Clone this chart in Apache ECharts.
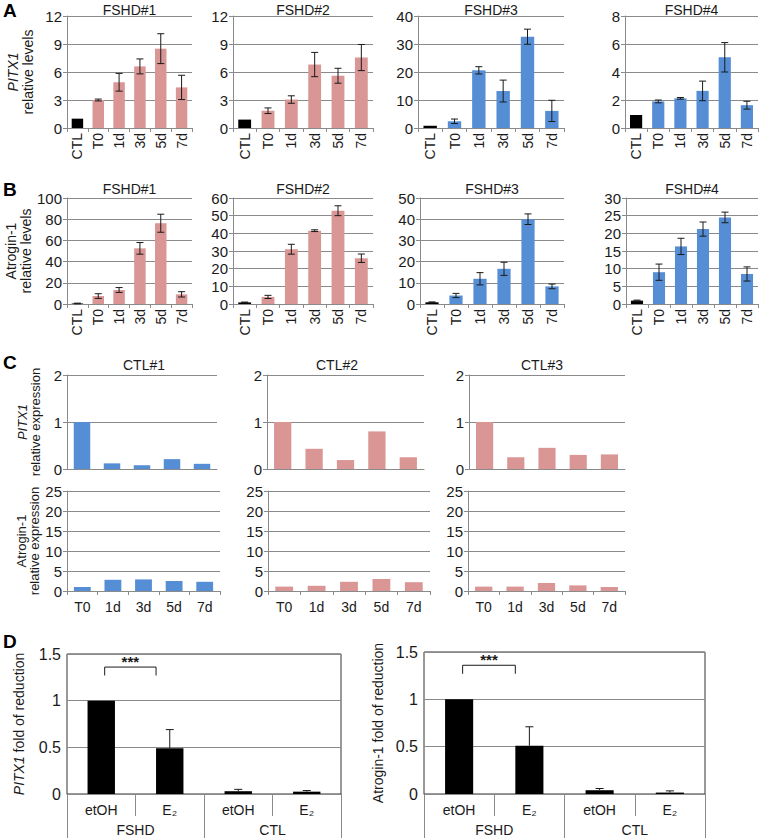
<!DOCTYPE html>
<html><head><meta charset="utf-8">
<script src="https://cdn.jsdelivr.net/npm/echarts@6/dist/echarts.min.js"></script>
<style>html,body{margin:0;padding:0;background:#fff}#c{width:764px;height:838px}</style>
</head><body><div id="c"></div>
<script>
// ---------- categories & labels ----------
const timeCats = ['CTL', 'T0', '1d', '3d', '5d', '7d'];
const ctlCats = ['T0', '1d', '3d', '5d', '7d'];
const treatCats = ['etOH', 'E₂', 'etOH', 'E₂'];
const groupCats = ['FSHD', 'CTL'];
const fshdTitles = ['FSHD#1', 'FSHD#2', 'FSHD#3', 'FSHD#4'];
const ctlTitles = ['CTL#1', 'CTL#2', 'CTL#3'];
const panelLetters = ['A', 'B', 'C', 'D'];
const sigLabel = '***';

// ---------- axis scales (tick labels) ----------
const pitxMax = [12, 12, 40, 8];
const pitxStep = [3, 3, 10, 2];
const atroMax = [100, 60, 50, 30];
const atroStep = [20, 10, 10, 5];
const ctlPitxMax = 2, ctlPitxStep = 1;
const ctlAtroMax = 25, ctlAtroStep = 5;
const dMax = 1.5, dStep = 0.5;

// ---------- A: PITX1 relative levels ----------
const pitxF1 = [1.0, 3.0, 4.9, 6.6, 8.5, 4.35];
const pitxF1Err = [0, 0.1, 0.95, 0.8, 1.6, 1.3];
const pitxF2 = [0.9, 1.85, 3.05, 6.8, 5.6, 7.55];
const pitxF2Err = [0, 0.3, 0.4, 1.3, 0.8, 1.4];
const pitxF3 = [0.8, 2.4, 20.6, 13.2, 32.6, 6.1];
const pitxF3Err = [0, 0.8, 1.3, 3.9, 2.7, 3.8];
const pitxF4 = [0.93, 1.9, 2.12, 2.65, 5.05, 1.63];
const pitxF4Err = [0, 0.1, 0.06, 0.7, 1.05, 0.28];

// ---------- B: Atrogin-1 relative levels ----------
const atroF1 = [0.5, 7.5, 13.2, 52.5, 76.2, 9.1];
const atroF1Err = [0.3, 2.2, 2.3, 5.5, 8.5, 2.5];
const atroF2 = [0.9, 4.0, 31.0, 41.5, 52.8, 25.9];
const atroF2Err = [0.2, 0.9, 2.8, 0.5, 2.8, 2.4];
const atroF3 = [0.8, 4.0, 11.9, 16.6, 40.0, 8.3];
const atroF3Err = [0.2, 1.0, 2.9, 3.1, 2.5, 1.1];
const atroF4 = [0.95, 9.0, 16.3, 21.2, 24.5, 8.5];
const atroF4Err = [0.15, 2.3, 2.3, 2.0, 1.5, 2.0];

// ---------- C: controls ----------
const ctlPitx1 = [1.0, 0.12, 0.08, 0.21, 0.11];
const ctlPitx2 = [1.0, 0.43, 0.19, 0.8, 0.25];
const ctlPitx3 = [1.0, 0.25, 0.45, 0.3, 0.31];
const ctlAtro1 = [1.0, 2.8, 2.9, 2.5, 2.3];
const ctlAtro2 = [1.1, 1.3, 2.3, 3.0, 2.2];
const ctlAtro3 = [1.1, 1.1, 2.0, 1.4, 1.0];

// ---------- D: fold of reduction ----------
const dPitx = [1.0, 0.49, 0.03, 0.025];
const dPitxErr = [0, 0.2, 0.02, 0.012];
const dAtro = [1.0, 0.51, 0.04, 0.015];
const dAtroErr = [0, 0.2, 0.018, 0.018];
const dSigPair = [0, 1];

// ---------- styles ----------
const FONT = '"Liberation Sans", Arial, Helvetica, sans-serif';
const TXT = '#1a1a1a';
const PINK = '#D99694';
const BLUE = '#558ED5';
const LINE = '#8a8a8a';

const grids = [], xAxis = [], yAxis = [], series = [], graphic = [];

function errRender(oneSided) {
  return function (params, api) {
    const i = api.value(0), v = api.value(1), e = api.value(2);
    if (!(e > 0)) return { type: 'group', children: [] };
    const t = api.coord([i, v + e]);
    const b = api.coord([i, oneSided ? v : Math.max(0, v - e)]);
    const cap = oneSided ? 4 : 3.5;
    const st = { stroke: '#1a1a1a', lineWidth: 1 };
    const ch = [
      { type: 'line', shape: { x1: t[0], y1: t[1], x2: b[0], y2: b[1] }, style: st },
      { type: 'line', shape: { x1: t[0] - cap, y1: t[1], x2: t[0] + cap, y2: t[1] }, style: st }
    ];
    if (!oneSided) ch.push({ type: 'line', shape: { x1: b[0] - cap, y1: b[1], x2: b[0] + cap, y2: b[1] }, style: st });
    return { type: 'group', children: ch };
  };
}

function bracketRender(params, api) {
  const band = api.size([1, 0])[0];
  const p1 = api.coord([api.value(0), api.value(2)]);
  const p2 = api.coord([api.value(1), api.value(2)]);
  const yLeg = api.coord([api.value(0), api.value(3)])[1];
  const x1 = p1[0] + 0.05 * band, x2 = p2[0] - 0.2 * band;
  return {
    type: 'group', children: [
      { type: 'polyline', shape: { points: [[x1, yLeg], [x1, p1[1]], [x2, p1[1]], [x2, yLeg]] },
        style: { stroke: '#1a1a1a', fill: null, lineWidth: 1 } },
      { type: 'text', x: (x1 + x2) / 2, y: p1[1] + 2,
        style: { text: sigLabel, textAlign: 'center', textVerticalAlign: 'bottom', fontSize: 15, fontWeight: 'bold', fontFamily: FONT, fill: '#1a1a1a' } }
    ]
  };
}

function nameStyle(size, lh) {
  return {
    fontFamily: FONT, fontSize: size, color: TXT, lineHeight: lh,
    rich: {
      i: { fontStyle: 'italic', fontFamily: FONT, fontSize: size, color: TXT, lineHeight: lh },
      n: { fontFamily: FONT, fontSize: size, color: TXT, lineHeight: lh }
    }
  };
}

function addPanel(p) {
  const gi = grids.length;
  grids.push({ left: p.left, top: p.top, width: p.width, height: p.height, containLabel: false,
    show: !!p.box, borderColor: '#333', borderWidth: p.box ? 1 : 0, backgroundColor: 'transparent' });
  const xi = xAxis.length;
  xAxis.push({
    gridIndex: gi, type: 'category', data: p.cats, position: 'bottom', boundaryGap: true,
    axisLine: { show: true, lineStyle: { color: LINE, width: 1 } },
    axisTick: { show: p.xTick !== false, length: p.xTickLen || 4, lineStyle: { color: LINE } },
    axisLabel: { show: p.xLabels !== false, rotate: p.rotate || 0, margin: p.xMargin || 6, fontSize: 14,
      color: TXT, fontFamily: FONT, interval: 0 },
    splitLine: { show: false }
  });
  const yi = yAxis.length;
  yAxis.push({
    gridIndex: gi, type: 'value', min: 0, max: p.max, interval: p.step,
    axisLine: { show: !p.box, lineStyle: { color: LINE } },
    axisTick: { show: !p.box, length: 4, lineStyle: { color: LINE } },
    axisLabel: { margin: p.yMargin || 5, fontSize: p.yFont || 15, color: TXT, fontFamily: FONT },
    splitLine: { show: true, lineStyle: { color: LINE, width: 1 } },
    name: p.name || '', nameLocation: 'middle', nameGap: p.nameGap || 30, nameRotate: 90,
    nameTextStyle: nameStyle(p.nameSize || 14, p.nameLH || 15)
  });
  series.push({
    type: 'bar', xAxisIndex: xi, yAxisIndex: yi, barWidth: p.barWidth || '55%', silent: true, animation: false,
    data: p.values.map((v, i) => ({ value: v, itemStyle: { color: (p.ctlFirst && i === 0) ? '#000' : p.color } }))
  });
  if (p.errs) {
    series.push({
      type: 'custom', xAxisIndex: xi, yAxisIndex: yi, silent: true, animation: false, z: 3,
      renderItem: errRender(!!p.oneSided), encode: { x: 0, y: 1 },
      data: p.values.map((v, i) => [i, v, p.errs[i]])
    });
  }
  return { gi, xi, yi };
}

function addTitle(text, x, y) {
  graphic.push({ type: 'text', x: x, y: y, silent: true,
    style: { text: text, textAlign: 'center', textVerticalAlign: 'middle', fontSize: 14, fontWeight: 'normal', fontFamily: FONT, fill: TXT } });
}

// ---------- Panel A ----------
const layA = [{ l: 67, w: 125 }, { l: 233, w: 140 }, { l: 418, w: 146 }, { l: 625, w: 133 }];
const pitxVals = [pitxF1, pitxF2, pitxF3, pitxF4];
const pitxErrs = [pitxF1Err, pitxF2Err, pitxF3Err, pitxF4Err];
const colA = [PINK, PINK, BLUE, BLUE];
layA.forEach((g, k) => {
  addPanel({ left: g.l, top: 16, width: g.w, height: 112, cats: timeCats, values: pitxVals[k], errs: pitxErrs[k],
    max: pitxMax[k], step: pitxStep[k], color: colA[k], ctlFirst: true, rotate: 90, xMargin: 5,
    name: k === 0 ? '{i|PITX1}\n{n|relative levels}' : '', nameGap: 32, nameSize: 14, nameLH: 15 });
  addTitle(fshdTitles[k], g.l + g.w / 2, 10);
});

// ---------- Panel B ----------
const layB = [{ l: 67, w: 125 }, { l: 233, w: 140 }, { l: 420, w: 144 }, { l: 626, w: 132 }];
const atroVals = [atroF1, atroF2, atroF3, atroF4];
const atroErrs = [atroF1Err, atroF2Err, atroF3Err, atroF4Err];
layB.forEach((g, k) => {
  addPanel({ left: g.l, top: 198, width: g.w, height: 106, cats: timeCats, values: atroVals[k], errs: atroErrs[k],
    max: atroMax[k], step: atroStep[k], color: colA[k], ctlFirst: true, rotate: 90, xMargin: 5,
    name: k === 0 ? '{n|Atrogin-1}\n{n|relative levels}' : '', nameGap: 32, nameSize: 14, nameLH: 15 });
  addTitle(fshdTitles[k], g.l + g.w / 2, 189);
});

// ---------- Panel C ----------
const layCu = [{ l: 67, w: 150 }, { l: 267, w: 157 }, { l: 469, w: 156 }];
const layCl = [{ l: 67, w: 153 }, { l: 268, w: 162 }, { l: 468, w: 157 }];
const cPitx = [ctlPitx1, ctlPitx2, ctlPitx3];
const cAtro = [ctlAtro1, ctlAtro2, ctlAtro3];
const colC = [BLUE, PINK, PINK];
const ctlTitleX = [144, 337, 542];
layCu.forEach((g, k) => {
  addPanel({ left: g.l, top: 375, width: g.w, height: 94, cats: ctlCats, values: cPitx[k],
    max: ctlPitxMax, step: ctlPitxStep, color: colC[k], xTick: false, xLabels: false,
    name: k === 0 ? '{i|PITX1}\n{n|relative expression}' : '', nameGap: 25, nameSize: 13, nameLH: 13 });
  addTitle(ctlTitles[k], ctlTitleX[k], 365);
});
layCl.forEach((g, k) => {
  addPanel({ left: g.l, top: 491, width: g.w, height: 100, cats: ctlCats, values: cAtro[k],
    max: ctlAtroMax, step: ctlAtroStep, color: colC[k], xMargin: 9,
    name: k === 0 ? '{n|Atrogin-1}\n{n|relative expression}' : '', nameGap: 25, nameSize: 13, nameLH: 13 });
});

// ---------- Panel D ----------
const layD = [{ l: 67, w: 274, t: 654, h: 140 }, { l: 424, w: 281, t: 652, h: 142 }];
const dVals = [dPitx, dAtro];
const dErrs = [dPitxErr, dAtroErr];
const dNames = ['{i|PITX1}{n| fold of reduction}', '{n|Atrogin-1 fold of reduction}'];
const dGaps = [41, 39];
layD.forEach((g, k) => {
  const ids = addPanel({ left: g.l, top: g.t, width: g.w, height: g.h, cats: treatCats, values: dVals[k], errs: dErrs[k],
    oneSided: true, max: dMax, step: dStep, color: '#000', box: true, xTickLen: 22, xMargin: 9,
    yFont: 16, yMargin: 6, barWidth: '40%', name: dNames[k], nameGap: dGaps[k], nameSize: 14, nameLH: 15 });
  xAxis.push({
    gridIndex: ids.gi, type: 'category', data: groupCats, position: 'bottom', offset: 0,
    axisLine: { show: false }, axisTick: { show: true, length: 44, lineStyle: { color: LINE } },
    axisLabel: { margin: 29, fontSize: 14, color: TXT, fontFamily: FONT }, splitLine: { show: false }
  });
  series.push({
    type: 'custom', xAxisIndex: ids.xi, yAxisIndex: ids.yi, silent: true, animation: false, z: 4,
    renderItem: bracketRender, encode: { x: 0, y: 2 },
    data: [[dSigPair[0], dSigPair[1], 1.36, 1.27]]
  });
});

// ---------- panel letters ----------
const letterPos = [[3, 1], [3, 180], [3, 353], [3, 632]];
panelLetters.forEach((t, k) => {
  graphic.push({ type: 'text', x: letterPos[k][0], y: letterPos[k][1], silent: true,
    style: { text: t, textAlign: 'left', textVerticalAlign: 'top', fontSize: 19, fontWeight: 'bold', fontFamily: FONT, fill: '#000' } });
});

const chart = echarts.init(document.getElementById('c'), null, { renderer: 'svg', width: 764, height: 838 });
chart.setOption({ animation: false, backgroundColor: '#fff', grid: grids, xAxis: xAxis, yAxis: yAxis, series: series, graphic: graphic });
</script>
</body></html>
